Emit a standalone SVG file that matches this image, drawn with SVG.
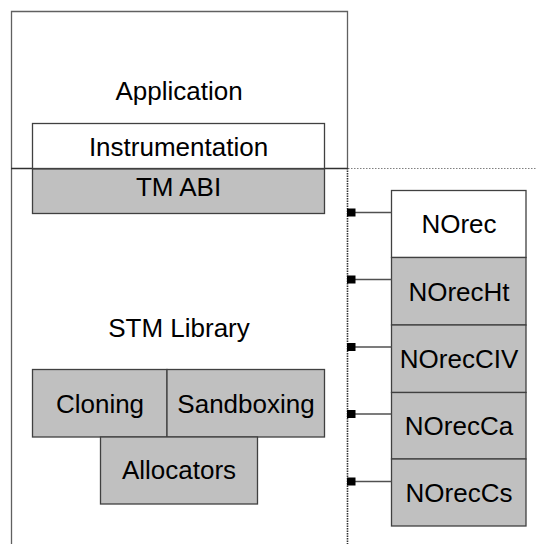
<svg xmlns="http://www.w3.org/2000/svg" width="536" height="544" viewBox="0 0 536 544">
  <style>
    text { font-family: "Liberation Sans", Arial, sans-serif; font-size: 26px; fill: #000; text-anchor: middle; }
    .box { stroke: #404040; stroke-width: 1.3; }
    .white { fill: #ffffff; }
    .grey { fill: #c0c0c0; }
    .frame { fill: none; stroke: #606060; stroke-width: 1.3; }
    .dot { fill: none; stroke: #303030; stroke-width: 1.6; stroke-dasharray: 1.5 1; }
    .dotlight { fill: none; stroke: #808080; stroke-width: 1; stroke-dasharray: 1.5 1.5; }
    .link { stroke: #505050; stroke-width: 1.3; }
    .plug { fill: #000; }
  </style>

  <rect width="536" height="544" fill="#ffffff"/>

  <!-- application / library frame -->
  <g id="frame">
    <path class="frame" d="M11.5,544 V11.5 H347.5 V168"/>
    <line x1="11" y1="168.5" x2="347.5" y2="168.5" stroke="#303030" stroke-width="1.6"/>
    <line class="dotlight" x1="348" y1="168.5" x2="536" y2="168.5"/>
    <line class="dot" x1="347.5" y1="168" x2="347.5" y2="544"/>
    <text x="179" y="100">Application</text>
    <text x="179" y="337">STM Library</text>
  </g>

  <g id="instrumentation">
    <rect class="box white" x="32.5" y="123.5" width="292" height="45"/>
    <text x="178.5" y="156">Instrumentation</text>
  </g>
  <g id="tm-abi">
    <rect class="box grey" x="32.5" y="169" width="292" height="44.5"/>
    <text x="178.5" y="196">TM ABI</text>
  </g>

  <g id="cloning">
    <rect class="box grey" x="32.5" y="369.5" width="134.5" height="67.5"/>
    <text x="100" y="413">Cloning</text>
  </g>
  <g id="sandboxing">
    <rect class="box grey" x="167" y="369.5" width="157.5" height="67.5"/>
    <text x="246" y="413">Sandboxing</text>
  </g>
  <g id="allocators">
    <rect class="box grey" x="100.5" y="437" width="157" height="67"/>
    <text x="179" y="479">Allocators</text>
  </g>

  <!-- algorithm variants -->
  <g id="norec">
    <rect class="box white" x="391.5" y="190.5" width="134.5" height="67"/>
    <text x="459" y="233">NOrec</text>
  </g>
  <g id="norecht">
    <rect class="box grey" x="391.5" y="257.5" width="134.5" height="67.5"/>
    <text x="459" y="300.5">NOrecHt</text>
  </g>
  <g id="noreciv">
    <rect class="box grey" x="391.5" y="325" width="134.5" height="67.5"/>
    <text x="459" y="367.5">NOrecCIV</text>
  </g>
  <g id="noreca">
    <rect class="box grey" x="391.5" y="392.5" width="134.5" height="66.5"/>
    <text x="459" y="435">NOrecCa</text>
  </g>
  <g id="norecs">
    <rect class="box grey" x="391.5" y="459" width="134.5" height="67"/>
    <text x="459" y="502">NOrecCs</text>
  </g>

  <!-- each variant plugs into the library boundary -->
  <g id="connectors">
    <line class="link" x1="355" y1="212.5" x2="391.5" y2="212.5"/>
    <rect class="plug" x="347" y="208.5" width="8.5" height="8"/>
    <line class="link" x1="355" y1="279.5" x2="391.5" y2="279.5"/>
    <rect class="plug" x="347" y="275.5" width="8.5" height="8"/>
    <line class="link" x1="355" y1="347" x2="391.5" y2="347"/>
    <rect class="plug" x="347" y="343" width="8.5" height="8"/>
    <line class="link" x1="355" y1="414" x2="391.5" y2="414"/>
    <rect class="plug" x="347" y="410" width="8.5" height="8"/>
    <line class="link" x1="355" y1="481.5" x2="391.5" y2="481.5"/>
    <rect class="plug" x="347" y="477.5" width="8.5" height="8"/>
  </g>
</svg>
